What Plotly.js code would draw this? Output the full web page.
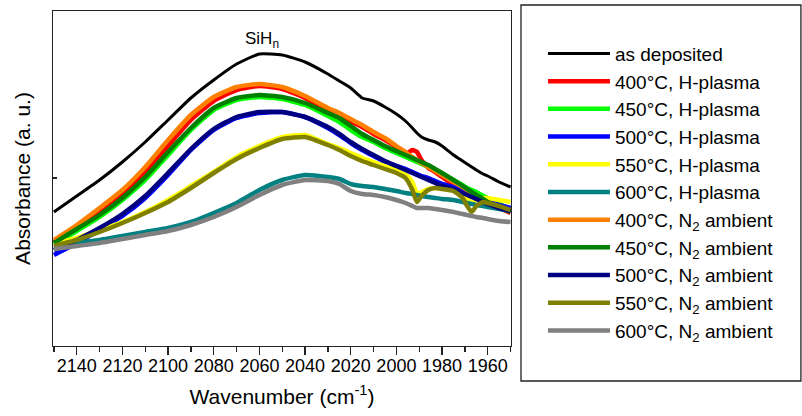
<!DOCTYPE html>
<html><head><meta charset="utf-8">
<script src="https://cdn.plot.ly/plotly-3.0.1.min.js"></script>
<style>html,body{margin:0;padding:0;background:#fff}#chart{width:802px;height:416px}</style>
</head><body><div id="chart"></div>
<script>
// Wavenumber grid (cm^-1)
const wavenumber = [2150,2140,2130,2120,2110,2100,2090,2080,2070,2060,2050,2040,2030,2025,2020,2015,2010,2005,2000,1996,1993,1991,1989,1986,1983,1980,1975,1971,1969,1967,1965,1962,1960,1955,1950];

// Absorbance (a. u.)
const asDeposited = [1.34,1.50,1.66,1.84,2.04,2.26,2.48,2.66,2.82,2.92,2.91,2.84,2.72,2.65,2.58,2.48,2.45,2.39,2.32,2.25,2.18,2.13,2.09,2.06,2.04,2.00,1.91,1.85,1.82,1.79,1.76,1.72,1.70,1.64,1.59];
const h400 = [1.04,1.17,1.33,1.51,1.74,2.00,2.26,2.45,2.56,2.60,2.57,2.48,2.34,2.28,2.24,2.19,2.12,2.06,1.99,1.92,1.96,1.94,1.86,1.78,1.74,1.69,1.61,1.55,1.51,1.50,1.49,1.45,1.43,1.38,1.33];
const h450 = [1.02,1.15,1.29,1.46,1.66,1.91,2.16,2.36,2.46,2.49,2.47,2.41,2.30,2.24,2.16,2.09,2.04,1.98,1.93,1.89,1.86,1.84,1.82,1.79,1.76,1.72,1.66,1.61,1.58,1.56,1.54,1.50,1.48,1.42,1.37];
const h500 = [0.91,1.03,1.16,1.30,1.48,1.71,1.96,2.16,2.28,2.33,2.34,2.29,2.18,2.11,2.03,1.96,1.90,1.84,1.80,1.77,1.74,1.72,1.70,1.68,1.65,1.62,1.59,1.56,1.54,1.52,1.50,1.47,1.45,1.41,1.38];
const h550 = [1.02,1.08,1.16,1.24,1.34,1.46,1.60,1.74,1.89,2.00,2.09,2.11,2.02,1.98,1.93,1.88,1.84,1.80,1.76,1.72,1.64,1.53,1.54,1.57,1.58,1.58,1.56,1.52,1.48,1.43,1.46,1.48,1.48,1.46,1.44];
const h600 = [0.99,1.03,1.06,1.10,1.14,1.18,1.24,1.33,1.43,1.56,1.66,1.71,1.69,1.67,1.62,1.60,1.59,1.57,1.55,1.53,1.52,1.51,1.50,1.49,1.48,1.47,1.46,1.44,1.43,1.42,1.41,1.40,1.39,1.37,1.35];
const n400 = [1.06,1.21,1.38,1.56,1.79,2.06,2.31,2.49,2.59,2.62,2.59,2.50,2.38,2.33,2.27,2.21,2.14,2.08,2.00,1.94,1.89,1.86,1.83,1.79,1.75,1.71,1.64,1.59,1.56,1.53,1.51,1.46,1.44,1.39,1.35];
const n450 = [1.03,1.17,1.31,1.48,1.69,1.94,2.18,2.38,2.48,2.51,2.49,2.43,2.33,2.28,2.20,2.12,2.06,2.00,1.95,1.91,1.88,1.86,1.84,1.81,1.77,1.73,1.66,1.60,1.57,1.54,1.51,1.47,1.44,1.39,1.34];
const n500 = [0.96,1.06,1.18,1.32,1.50,1.73,1.97,2.17,2.29,2.34,2.34,2.29,2.19,2.12,2.04,1.97,1.91,1.85,1.80,1.76,1.73,1.71,1.69,1.66,1.63,1.60,1.57,1.53,1.51,1.49,1.47,1.44,1.42,1.38,1.35];
const n550 = [1.00,1.06,1.14,1.23,1.33,1.44,1.58,1.73,1.87,1.98,2.07,2.09,2.01,1.96,1.90,1.85,1.81,1.77,1.73,1.68,1.56,1.44,1.50,1.56,1.58,1.57,1.55,1.48,1.40,1.34,1.40,1.44,1.43,1.40,1.36];
const n600 = [0.97,1.00,1.03,1.07,1.11,1.15,1.21,1.29,1.39,1.51,1.61,1.66,1.65,1.62,1.55,1.52,1.51,1.49,1.46,1.43,1.40,1.38,1.38,1.38,1.37,1.36,1.34,1.32,1.31,1.30,1.29,1.28,1.27,1.25,1.24];

const seriesNames = ["as deposited","400°C, H-plasma","450°C, H-plasma","500°C, H-plasma","550°C, H-plasma","600°C, H-plasma",
  "400°C, N<sub>2</sub> ambient","450°C, N<sub>2</sub> ambient","500°C, N<sub>2</sub> ambient","550°C, N<sub>2</sub> ambient","600°C, N<sub>2</sub> ambient"];
const seriesValues = [asDeposited,h400,h450,h500,h550,h600,n400,n450,n500,n550,n600];
const xTicks = [2140,2120,2100,2080,2060,2040,2020,2000,1980,1960];
const xMinorTicks = [2150,2130,2110,2090,2070,2050,2030,2010,1990,1970,1950];
const peakLabel = {text:"SiH<sub>n</sub>", x:2059, y:3.06};

// styles
const seriesColors = ["#000000","#ff0000","#00ff00","#0000ff","#ffff00","#008080","#ff8000","#008000","#000080","#808000","#808080"];
const FONT = "Arial, 'Liberation Sans', sans-serif";

const traces = seriesValues.map((v,i)=>({
  type:"scatter", mode:"lines", x:wavenumber, y:v, name:seriesNames[i],
  line:{color:seriesColors[i], width: i===0?3:4.5, shape:"spline", smoothing:0.5}
}));

const layout = {
  width:802, height:416,
  margin:{l:53, r:291, t:11, b:70},
  paper_bgcolor:"#fff", plot_bgcolor:"#fff",
  font:{family:FONT, color:"#000", size:18},
  showlegend:true,
  xaxis:{range:[2150.4,1949.8], tickvals:xTicks, ticks:"outside", ticklen:8, tickwidth:1.3, tickcolor:"#222",
    minor:{tickvals:xMinorTicks, ticks:"outside", ticklen:5, tickwidth:1.3, tickcolor:"#222"},
    ticklabelstandoff:-5,
    showline:true, mirror:true, linecolor:"#222", linewidth:1.3, showgrid:false, zeroline:false,
    tickfont:{size:18, color:"#000"}, title:{text:"Wavenumber (cm<sup>-1</sup>)", font:{size:21, color:"#000"}, standoff:14}},
  yaxis:{range:[0,3.35], tickvals:[1.68], ticks:"inside", ticklen:4, tickwidth:1.3, tickcolor:"#222",
    showline:true, mirror:true, linecolor:"#222", linewidth:1.3, showgrid:false, zeroline:false, showticklabels:false,
    title:{text:"Absorbance (a. u.)", font:{size:21, color:"#000"}, standoff:15}},
  legend:{xref:"container", yref:"container", x:0.677, y:0.9168, xanchor:"left", yanchor:"top", maxheight:400,
    bgcolor:"rgba(0,0,0,0)", borderwidth:0, font:{size:19, color:"#000"}, itemwidth:62, tracegroupgap:0},
  shapes:[{type:"rect", xref:"paper", yref:"paper", x0:1.0218, x1:1.633, y0:-0.1045, y1:1.0179,
    line:{color:"#222", width:1.3}, fillcolor:"rgba(0,0,0,0)"}],
  annotations:[{text:peakLabel.text, x:peakLabel.x, y:peakLabel.y, xref:"x", yref:"y", showarrow:false, font:{size:17, color:"#000"}}]
};

Plotly.newPlot("chart", traces, layout, {staticPlot:true, displayModeBar:false});
</script>
</body></html>
